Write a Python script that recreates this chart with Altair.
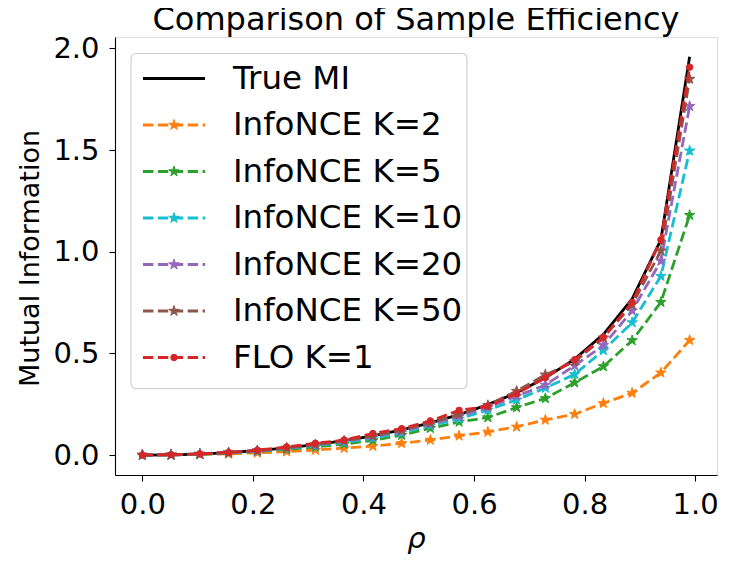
import altair as alt
import pandas as pd

rho = [0.0, 0.052, 0.104, 0.156, 0.208, 0.261, 0.313, 0.365, 0.417, 0.469,
       0.521, 0.573, 0.625, 0.677, 0.729, 0.782, 0.834, 0.886, 0.938, 0.99]

true_mi = [0.0, 0.001, 0.005, 0.012, 0.022, 0.035, 0.051, 0.071, 0.095, 0.124,
           0.158, 0.199, 0.248, 0.307, 0.380, 0.472, 0.594, 0.768, 1.059, 1.959]
nce_k2 = [0.0, 0.001, 0.003, 0.006, 0.011, 0.017, 0.025, 0.034, 0.044, 0.058,
          0.074, 0.095, 0.114, 0.139, 0.173, 0.201, 0.255, 0.305, 0.405, 0.565]
nce_k5 = [0.0, 0.001, 0.004, 0.010, 0.018, 0.028, 0.040, 0.054, 0.072, 0.098,
          0.132, 0.163, 0.185, 0.234, 0.279, 0.356, 0.436, 0.564, 0.752, 1.180]
nce_k10 = [0.0, 0.001, 0.005, 0.011, 0.020, 0.032, 0.046, 0.062, 0.083, 0.110,
           0.145, 0.178, 0.222, 0.272, 0.330, 0.397, 0.515, 0.652, 0.880, 1.497]
nce_k20 = [0.0, 0.001, 0.005, 0.012, 0.021, 0.034, 0.049, 0.067, 0.090, 0.117,
           0.152, 0.190, 0.235, 0.290, 0.345, 0.440, 0.540, 0.710, 0.955, 1.716]
nce_k50 = [0.0, 0.001, 0.005, 0.012, 0.022, 0.035, 0.051, 0.070, 0.094, 0.121,
           0.158, 0.200, 0.245, 0.315, 0.395, 0.460, 0.577, 0.740, 1.005, 1.850]
flo_k1 = [0.0, 0.002, 0.006, 0.013, 0.024, 0.040, 0.058, 0.074, 0.106, 0.130,
          0.168, 0.220, 0.240, 0.302, 0.381, 0.469, 0.580, 0.752, 1.059, 1.908]

series_names = ["InfoNCE K=2", "InfoNCE K=5", "InfoNCE K=10", "InfoNCE K=20",
                "InfoNCE K=50", "FLO K=1"]
series_values = [nce_k2, nce_k5, nce_k10, nce_k20, nce_k50, flo_k1]
series_colors = ["#ff7f0e", "#2ca02c", "#17becf", "#9467bd", "#8c564b", "#d62728"]
series_markers = ["star", "star", "star", "star", "star", "dot"]

FONT = "DejaVu Sans"
W, H = 602, 438
STAR = ("M0,-1 L0.2245,-0.309 L0.951,-0.309 L0.363,0.118 L0.588,0.809 "
        "L0,0.382 L-0.588,0.809 L-0.363,0.118 L-0.951,-0.309 L-0.2245,-0.309 Z")
DASH = [10.4, 4.5]
LW = 2.8

xscale = alt.Scale(domain=[-0.0495, 1.0395], nice=False, zero=False)
yscale = alt.Scale(domain=[-0.098, 2.0565], nice=False, zero=False)

xaxis = alt.Axis(values=[0, 0.2, 0.4, 0.6, 0.8, 1.0], format=".1f", grid=False,
                 title="ρ", titleFontStyle="italic", titleFontSize=29,
                 titleFontWeight="normal", titleFont=FONT, titleColor="black",
                 titleX=W / 2, titleY=72, titleBaseline="alphabetic", titleAlign="center",
                 labelFont=FONT, labelFontSize=29, labelColor="black",
                 labelPadding=9, tickSize=6, tickColor="black", tickWidth=1.1,
                 domainColor="black", domainWidth=1.1)
yaxis = alt.Axis(values=[0, 0.5, 1.0, 1.5, 2.0], format=".1f", grid=False,
                 title="Mutual Information", titleFontSize=27, titleFont=FONT,
                 titleFontWeight="normal", titleColor="black",
                 titleAngle=-90, titleX=-71, titleY=H / 2 + 2, titleBaseline="bottom",
                 titleAlign="center",
                 labelFont=FONT, labelFontSize=29, labelColor="black",
                 labelPadding=10, tickSize=6, tickColor="black", tickWidth=1.1,
                 domainColor="black", domainWidth=1.1)

def xenc():
    return alt.X("rho:Q", scale=xscale, axis=xaxis)

def yenc():
    return alt.Y("mi:Q", scale=yscale, axis=yaxis)

layers = []
df_true = pd.DataFrame({"rho": rho, "mi": true_mi})
layers.append(alt.Chart(df_true).mark_line(color="black", strokeWidth=LW)
              .encode(x=xenc(), y=yenc()))

for name, vals, col, mk in zip(series_names, series_values, series_colors, series_markers):
    d = pd.DataFrame({"rho": rho, "mi": vals})
    layers.append(alt.Chart(d).mark_line(color=col, strokeWidth=LW, strokeDash=DASH)
                  .encode(x=xenc(), y=yenc()))
    if mk == "star":
        pt = alt.Chart(d).mark_point(shape=STAR, size=120, filled=True, fill=col,
                                     stroke=col, strokeWidth=1, opacity=1)
    else:
        pt = alt.Chart(d).mark_point(shape="circle", size=42, filled=True, fill=col,
                                     stroke=col, strokeWidth=1, opacity=1)
    layers.append(pt.encode(x=xenc(), y=yenc()))

# legend (pixel layout inside the plot area), one-row data source
one = pd.DataFrame({"k": [0]})
LX0, LX1, LY0, LY1 = 16, 352, 16.5, 351.5
layers.append(alt.Chart(one).mark_rect(fill="white", fillOpacity=0.8, stroke="#cccccc",
                                       strokeWidth=1.1, cornerRadius=5)
              .encode(x=alt.value(LX0), x2=alt.value(LX1), y=alt.value(LY0), y2=alt.value(LY1)))

leg_names = ["True MI"] + series_names
leg_colors = ["black"] + series_colors
leg_markers = ["none"] + series_markers
for i, (name, col, mk) in enumerate(zip(leg_names, leg_colors, leg_markers)):
    yy = 41.5 + 46.5 * i
    if mk == "none":
        ln = alt.Chart(one).mark_rule(color=col, strokeWidth=LW)
    else:
        ln = alt.Chart(one).mark_rule(color=col, strokeWidth=LW, strokeDash=DASH)
    layers.append(ln.encode(x=alt.value(28), x2=alt.value(90), y=alt.value(yy)))
    if mk == "star":
        layers.append(alt.Chart(one).mark_point(shape=STAR, size=120, filled=True, fill=col,
                                                stroke=col, strokeWidth=1, opacity=1)
                      .encode(x=alt.value(59), y=alt.value(yy)))
    elif mk == "dot":
        layers.append(alt.Chart(one).mark_point(shape="circle", size=42, filled=True, fill=col,
                                                stroke=col, strokeWidth=1, opacity=1)
                      .encode(x=alt.value(59), y=alt.value(yy)))
    layers.append(alt.Chart(one).mark_text(align="left", baseline="middle", font=FONT,
                                           fontSize=32.5, color="black")
                  .encode(x=alt.value(118), y=alt.value(yy), text=alt.value(name)))

chart = alt.layer(*layers).properties(
    width=W, height=H,
    title=alt.TitleParams("Comparison of Sample Efficiency", font=FONT, fontSize=32,
                          fontWeight="normal", color="black", anchor="middle",
                          offset=1, dy=4),
    autosize=alt.AutoSizeParams(type="none"),
    padding={"left": 107, "top": 29, "right": 4, "bottom": 80},
).configure_view(stroke="black", strokeWidth=1.1).configure(background="white")

chart.save("out.html", embed_options={"renderer": "svg", "actions": False})
